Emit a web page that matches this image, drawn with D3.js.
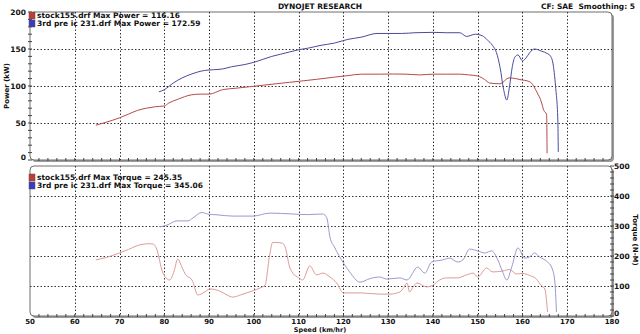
<!DOCTYPE html>
<html>
<head>
<meta charset="utf-8">
<script src="https://cdn.jsdelivr.net/npm/d3@7"></script>
<style>
  body { margin: 0; background: #fff; }
  svg { display: block; }
  text { font-family: 'DejaVu Sans', Verdana, sans-serif; font-weight: bold; fill: #111; }
</style>
</head>
<body>
<svg width="640" height="334"></svg>
<script>
// Run data (speed in km/hr)

var stockPowerSpeed = [64.7, 67, 70, 72, 74, 76, 78, 80, 81, 83, 86, 88, 90, 93, 96, 99, 102, 105, 108, 111, 114, 118, 121, 124, 128, 131, 134, 137, 140, 143, 146, 148, 150, 151.5, 152.7, 155, 157, 158.5, 160, 161, 162, 163.2, 164.3, 164.7, 165.4, 165.5];
var stockPower = [47, 51, 57, 62, 67, 70, 72, 73, 77, 82, 88, 89, 89, 95, 97, 99, 101, 103, 105, 107, 109, 112, 114, 116, 116, 116.2, 116, 115, 116, 116, 116, 115, 113.5, 109, 104, 103, 111, 110, 108, 107, 104, 92, 77, 68, 61, 9];

var icPowerSpeed = [78.8, 80, 82, 84, 86, 87.5, 89, 91, 93, 95, 98, 100, 102, 104, 106, 108, 110, 112, 115, 118, 121, 124, 127.5, 130, 133, 136, 140, 143, 146, 147.5, 149.5, 151, 152.2, 153.3, 154.2, 155, 155.8, 156.5, 157.1, 157.7, 158.3, 159, 160, 160.8, 161.6, 162.7, 164.3, 165.5, 166.3, 166.8, 167.4, 167.9, 168];
var icPower = [92, 95, 104, 111, 116, 119, 121, 122, 123, 126, 129, 132, 136, 140, 143, 146, 149, 151, 155, 158, 163, 166, 171, 171, 171, 172, 172.5, 172, 172, 167, 170, 168, 162, 155, 145, 125, 95, 81, 99, 125, 139, 142, 134, 138, 145, 150, 147, 144, 140, 131, 99, 54, 11];

var stockTorqueSpeed = [64.7, 67, 70, 72, 74.5, 76.5, 77.5, 78.2, 79.7, 81.2, 82.2, 83, 84, 84.8, 86.2, 87.5, 89, 90.2, 92.4, 94, 95.3, 97, 98.4, 100, 101.3, 102.5, 103.5, 104.2, 105, 106.3, 107, 108, 108.7, 110, 110.9, 112.5, 114, 115.4, 117, 118.5, 120, 124, 128, 130.4, 132.6, 133.5, 134.2, 134.8, 135.5, 136.4, 138.6, 140, 141.5, 143, 145.5, 147.5, 149, 150, 152, 153.3, 155.6, 157.1, 158.7, 160, 161.6, 163, 164.3, 165, 165.6];
var stockTorque = [187, 195, 210, 222, 237, 241, 240, 227, 143, 120, 150, 190, 160, 137, 120, 70, 80, 90, 83, 70, 63, 70, 77, 85, 93, 103, 200, 245, 245, 243, 230, 163, 143, 128, 120, 167, 137, 143, 130, 110, 77, 77, 73, 73, 80, 95, 110, 80, 95, 110, 97, 103, 120, 127, 127, 137, 143, 130, 160, 147, 150, 155, 140, 142, 135, 125, 100, 90, 13];

var icTorqueSpeed = [79, 80.6, 82.8, 85.3, 86.4, 88.4, 89.7, 92, 95.3, 99.8, 103.6, 108.7, 112, 115.4, 116.3, 117, 118, 120, 121.4, 123.7, 126, 128.1, 129.7, 132.6, 134.2, 136.6, 138.2, 139.7, 142.2, 143.8, 145.5, 146.7, 148.2, 150, 151.6, 153.1, 154.5, 155.5, 156.5, 157.6, 159, 160.5, 161.6, 162.7, 163.8, 165.6, 166.5, 167.2, 167.6];
var icTorque = [297, 303, 317, 317, 327, 345, 340, 337, 333, 333, 343, 340, 338, 340, 327, 263, 230, 177, 147, 113, 125, 130, 123, 127, 120, 163, 143, 180, 187, 193, 180, 187, 223, 217, 210, 217, 187, 150, 120, 163, 227, 193, 197, 210, 197, 180, 163, 120, 13];

// Tick labels and legend text

var speedTicks = [50, 60, 70, 80, 90, 100, 110, 120, 130, 140, 150, 160, 170, 180];
var powerTicks = [0, 50, 100, 150, 200];
var torqueTicks = [0, 100, 200, 300, 400, 500];
var powerLegend = ['stock155.drf Max Power = 116.16', '3rd pre ic 231.drf Max Power = 172.59'];
var torqueLegend = ['stock155.drf Max Torque = 245.35', '3rd pre ic 231.drf Max Torque = 345.06'];

var svg = d3.select('svg');

var left = 30, right = 612;           // plot edges shared by both panels
var xScale = d3.scaleLinear().domain([50, 180]).range([left, right]);
var yPower = d3.scaleLinear().domain([0, 200]).range([160, 12]);
var yTorque = d3.scaleLinear().domain([0, 500]).range([316, 166]);

var redPower = '#b34a4a', bluePower = '#4a4a9c';
var redTorque = '#df9a9a', blueTorque = '#9a9acc';

// Header texts
svg.append('text').attr('x', 320).attr('y', 9).attr('text-anchor', 'middle')
  .style('font-size', '7.5px').text('DYNOJET RESEARCH');
svg.append('text').attr('x', 635).attr('y', 9).attr('text-anchor', 'end')
  .style('font-size', '7.5px').attr('xml:space', 'preserve').text('CF: SAE  Smoothing: 5');

// Draws one framed panel: shadow, box, grid, ticks
function drawPanel(yScale, yTickVals, gridVals, minorStep, axisSide) {
  var y0 = yScale.range()[0], y1 = yScale.range()[1];
  var g = svg.append('g');

  g.append('rect')                      // grey drop shadow
    .attr('x', left + 2).attr('y', y1 + 2)
    .attr('width', right - left).attr('height', y0 - y1)
    .attr('rx', 4).attr('fill', '#9a9a9a');
  g.append('rect')
    .attr('x', left).attr('y', y1)
    .attr('width', right - left).attr('height', y0 - y1)
    .attr('rx', 4).attr('fill', '#fff').attr('stroke', '#6e6e6e').attr('stroke-width', 1);

  // dotted grid
  g.selectAll('line.vgrid').data(d3.range(60, 180, 10)).enter().append('line')
    .attr('x1', function (d) { return Math.round(xScale(d)) + 0.5; })
    .attr('x2', function (d) { return Math.round(xScale(d)) + 0.5; })
    .attr('y1', y1).attr('y2', y0)
    .attr('stroke', '#333').attr('stroke-dasharray', '1.5,2');
  g.selectAll('line.hgrid').data(gridVals).enter().append('line')
    .attr('y1', function (d) { return Math.round(yScale(d)) + 0.5; })
    .attr('y2', function (d) { return Math.round(yScale(d)) + 0.5; })
    .attr('x1', left).attr('x2', right)
    .attr('stroke', '#333').attr('stroke-dasharray', '1.5,2');

  // minor ticks along the bottom edge every 2 km/hr
  g.selectAll('line.xt').data(d3.range(52, 180, 2)).enter().append('line')
    .attr('x1', function (d) { return xScale(d); })
    .attr('x2', function (d) { return xScale(d); })
    .attr('y1', y0 - 2).attr('y2', y0 + 1)
    .attr('stroke', '#444');

  // ticks on the value axis
  var ax = axisSide === 'left' ? left : right;
  g.selectAll('line.yt').data(d3.range(yScale.domain()[0], yScale.domain()[1] + 0.1, minorStep)).enter().append('line')
    .attr('x1', ax - 2).attr('x2', ax + 2)
    .attr('y1', function (d) { return yScale(d); })
    .attr('y2', function (d) { return yScale(d); })
    .attr('stroke', '#444');

  g.selectAll('text.yl').data(yTickVals).enter().append('text')
    .attr('x', axisSide === 'left' ? 26 : 614)
    .attr('y', function (d) { return yScale(d) + (d === 0 ? -0.5 : 3); })
    .attr('text-anchor', axisSide === 'left' ? 'end' : 'start')
    .style('font-size', '7.5px')
    .text(function (d) { return d; });
}

drawPanel(yPower, powerTicks, [50, 100, 150], 10, 'left');
drawPanel(yTorque, torqueTicks, [100, 200, 300, 400], 20, 'right');

// Axis titles
svg.append('text').attr('transform', 'translate(9,86) rotate(-90)')
  .attr('text-anchor', 'middle').style('font-size', '7px').text('Power (kW)');
svg.append('text').attr('transform', 'translate(633,240) rotate(90)')
  .attr('text-anchor', 'middle').style('font-size', '7px').text('Torque (N-M)');
svg.append('text').attr('x', 320).attr('y', 332.4).attr('text-anchor', 'middle')
  .style('font-size', '6.5px').text('Speed (km/hr)');

// Speed labels under the bottom panel
svg.selectAll('text.xl').data(speedTicks).enter().append('text')
  .attr('x', function (d) { return xScale(d); })
  .attr('y', 324).attr('text-anchor', 'middle')
  .style('font-size', '7px')
  .text(function (d) { return d; });

// Lines
var lineFunction = d3.line().x(function (d) { return xScale(d[0]); });

function drawRun(speeds, values, yScale, colour) {
  var pts = d3.zip(speeds, values);
  svg.append('path').datum(pts)
    .attr('d', lineFunction.y(function (d) { return yScale(d[1]); }).curve(d3.curveMonotoneX))
    .attr('fill', 'none').attr('stroke', colour).attr('stroke-width', 1);
}

drawRun(stockPowerSpeed, stockPower, yPower, redPower);
drawRun(icPowerSpeed, icPower, yPower, bluePower);
drawRun(stockTorqueSpeed, stockTorque, yTorque, redTorque);
drawRun(icTorqueSpeed, icTorque, yTorque, blueTorque);

// Legends
function drawLegend(labels, top) {
  var cols = ['#c23a3a', '#3a3ac2'];
  labels.forEach(function (t, i) {
    svg.append('rect').attr('x', 29).attr('y', top + i * 8 - 6)
      .attr('width', 6).attr('height', 7).attr('fill', cols[i]).attr('stroke', '#555').attr('stroke-width', 0.5);
    svg.append('text').attr('x', 37).attr('y', top + i * 8)
      .style('font-size', '7.5px').text(t);
  });
}

drawLegend(powerLegend, 18);
drawLegend(torqueLegend, 180);
</script>
</body>
</html>
